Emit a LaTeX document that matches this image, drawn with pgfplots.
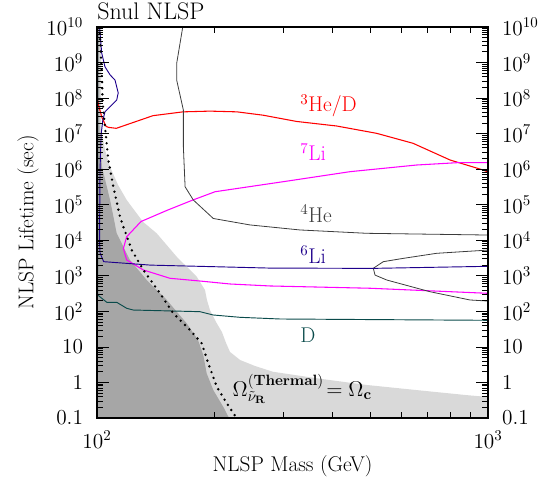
\RequirePackage{fix-cm}
\documentclass[border=0pt]{standalone}
\usepackage{pgfplots}
\pgfplotsset{compat=1.18}
\definecolor{hed}{RGB}{255,0,0}
\definecolor{lisev}{RGB}{255,0,255}
\definecolor{lisix}{RGB}{30,0,140}
\definecolor{deut}{RGB}{10,75,75}
\definecolor{hefour}{RGB}{60,60,60}
\definecolor{lightreg}{RGB}{217,217,217}
\definecolor{darkreg}{RGB}{166,166,166}

\def\minorticks{0.2,0.3,0.4,0.5,0.6,0.7,0.8,0.9,2,3,4,5,6,7,8,9,
 20,30,40,50,60,70,80,90,200,300,400,500,600,700,800,900,
 2e3,3e3,4e3,5e3,6e3,7e3,8e3,9e3,2e4,3e4,4e4,5e4,6e4,7e4,8e4,9e4,
 2e5,3e5,4e5,5e5,6e5,7e5,8e5,9e5,2e6,3e6,4e6,5e6,6e6,7e6,8e6,9e6,
 2e7,3e7,4e7,5e7,6e7,7e7,8e7,9e7,2e8,3e8,4e8,5e8,6e8,7e8,8e8,9e8,
 2e9,3e9,4e9,5e9,6e9,7e9,8e9,9e9}

\begin{document}
\fontsize{16}{19}\selectfont
\begin{tikzpicture}
\path[use as bounding box] (-72.75pt,-47.25pt) rectangle (342pt,313.5pt);
\begin{axis}[
  scale only axis, width=293.25pt, height=293.25pt,
  xmode=log, ymode=log,
  xmin=100, xmax=1000, ymin=0.1, ymax=1e10,
  clip mode=individual,
  axis line style={line width=1.1pt},
  major tick length=9pt, minor tick length=4.5pt,
  tick style={black, line width=0.6pt},
  xtick={100,1000}, xticklabels={$10^2$,$10^3$},
  minor xtick={200,300,400,500,600,700,800,900},
  ytick={0.1,1,10,100,1000,1e4,1e5,1e6,1e7,1e8,1e9,1e10},
  yticklabels={$0.1$,$1$,$10$,$10^2$,$10^3$,$10^4$,$10^5$,$10^6$,$10^7$,$10^8$,$10^9$,$10^{10}$},
  minor ytick/.expanded={\minorticks},
  xticklabel style={yshift=-4pt},
  yticklabel style={xshift=-5pt},
  axis on top,
  xlabel={NLSP Mass (GeV)},
  xlabel style={at={(axis description cs:0.5,-0.138)}, anchor=base},
  ylabel={NLSP Lifetime (sec)},
  ylabel style={at={(axis description cs:-0.1765,0.5)}, anchor=center},
]
% allowed regions (light) and excluded core (dark)
\addplot[fill=lightreg, draw=none] coordinates {
 (100,1e10) (102.4,1e10) (102.4,2.4e7) (103,1.04e7) (104.8,3.5e6) (108,1.15e6)
 (113.2,3.6e5) (119.1,1.36e5) (131.1,3.3e4) (142.1,1.57e4) (159.9,3.45e3)
 (179.9,944) (188.9,399) (191.1,209) (194.5,109) (201.6,50) (208.7,26.2)
 (213.8,12.9) (218.9,7.2) (232.2,4.29) (253.6,2.9) (281.9,2.0) (364.6,1.31)
 (489.5,0.85) (657.2,0.61) (882.1,0.44) (1000,0.39) (1000,0.1) (100,0.1)
};
\addplot[fill=darkreg, draw=none] coordinates {
 (100,1e10) (101.2,1e10) (101.5,1.04e7) (103,1.15e6) (108,1.36e5) (112.3,1.57e4)
 (121.4,2.79e3) (134,762) (150.8,209) (169.6,46) (181.3,15.6) (187,5.9)
 (190.8,1.8) (198.4,0.61) (211.2,0.19) (217.6,0.1) (100,0.1)
};

% 3He/D
\addplot[hed, line width=0.8pt] coordinates {
 (100.2,1e10) (100.2,1e8) (101,6e7) (103,2.8e7) (105.5,1.6e7) (107,1.5e7)
 (112,1.41e7) (139,3.2e7) (166,4.1e7) (194.5,4.3e7) (228,4.1e7) (266,3.3e7)
 (324,2.2e7) (410,1.64e7) (519,1.02e7) (643,5.35e6) (800,1.81e6) (971,9.5e5)
 (1000,8.3e5)
};
% 7Li
\addplot[lisev, line width=0.8pt] coordinates {
 (1000,1.52e6) (831.8,1.52e6) (657.2,1.31e6) (443.6,8.5e5) (299.6,4.45e5)
 (200.4,2.32e5) (174.7,1.32e5) (150.8,6.9e4) (129.6,3.37e4) (119.1,1.26e4)
 (116.8,5.9e3) (119.1,2.79e3) (131.4,1.46e3) (153.7,851) (183.4,714)
 (218.9,589) (277,518) (499,447) (1000,322)
};
% 4He
\addplot[hefour, line width=0.6pt] coordinates {
 (165.7,1e10) (159.9,9.5e8) (159.9,3.2e8) (166.3,4.6e7) (166.3,4.3e6)
 (168,3.2e5) (176.3,1.36e5) (198.4,4.1e4) (246.2,2.7e4) (330.5,1.95e4)
 (489.5,1.57e4) (972.6,1.41e4) (1000,1.4e4)
};
\addplot[hefour, line width=0.6pt] coordinates {
 (1000,5.3e3) (739.3,4.3e3) (607.4,3.1e3) (539.8,2.5e3) (508.9,1.63e3)
 (514,1.05e3) (550.8,762) (710.7,357) (899.4,209) (1000,195)
};
% 6Li
\addplot[lisix, line width=0.7pt] coordinates {
 (101.5,1e10) (102.8,1.86e9) (104.8,7.6e8) (108,4.5e8) (111.2,3.2e8)
 (113.3,1.4e8) (112.3,8.8e7) (108,5.7e7) (104.8,4.1e7) (103.5,2.4e7)
 (102.5,1e7) (101.8,1e6) (101.5,1e4) (101.8,4.4e3) (104,2.5e3) (137,2.0e3)
 (277,1.65e3) (509,1.62e3) (1000,1.85e3)
};
% D
\addplot[deut, line width=0.7pt] coordinates {
 (100.4,1e10) (100.4,288) (105.9,180) (112.3,180) (119.1,122) (123.8,109)
 (142.1,105) (183.4,98) (198.4,79) (232.2,68) (293.8,61) (1000,56)
};
% thermal relic abundance
\addplot[black, line width=2pt, line cap=round, dash pattern=on 0pt off 4.6pt] coordinates {
 (101.4,1e10) (102.8,6.2e8) (103.4,7.1e7) (104.8,1.57e7) (106.9,1.81e6)
 (110.1,3.2e5) (114.5,4.6e4) (116.8,2.4e4) (122.7,5.3e3) (131.4,1.46e3)
 (144.9,322) (156.7,88) (172.9,30) (185.3,12.6) (192.6,3.46) (202.4,0.76)
 (214.7,0.26) (227.7,0.098)
};

\node[hed, anchor=west] at (axis cs:317,6.0e7) {$^3$He/D};
\node[lisev, anchor=west] at (axis cs:317,3.0e6) {$^7$Li};
\node[hefour, anchor=west] at (axis cs:317,5.5e4) {$^4$He};
\node[lisix, anchor=west] at (axis cs:317,3.9e3) {$^6$Li};
\node[deut, anchor=west] at (axis cs:317,21.6) {D};
\node[anchor=base west, inner sep=0pt] at (axis cs:222,0.4)
  {$\Omega^{(\mathbf{Thermal})}_{\tilde{\nu}_{\mathbf{R}}}\!=\Omega_{\mathbf{c}}$};
\node[anchor=base west, inner sep=0pt, font=\fontsize{18}{21}\selectfont]
  at (axis description cs:0,1.02) {Snul NLSP};
\end{axis}
\begin{axis}[
  scale only axis, width=293.25pt, height=293.25pt,
  xmode=log, ymode=log,
  xmin=100, xmax=1000, ymin=0.1, ymax=1e10,
  hide x axis, axis y line*=right, tick align=inside,
  axis line style={line width=1.1pt},
  major tick length=9pt, minor tick length=4.5pt,
  tick style={black, line width=0.6pt},
  ytick={0.1,1,10,100,1000,1e4,1e5,1e6,1e7,1e8,1e9,1e10},
  yticklabels={$0.1$,$1$,$10$,$10^2$,$10^3$,$10^4$,$10^5$,$10^6$,$10^7$,$10^8$,$10^9$,$10^{10}$},
  minor ytick/.expanded={\minorticks},
  yticklabel style={xshift=5pt},
]
\addplot[draw=none] coordinates {(100,1) (1000,1)};
\end{axis}
\end{tikzpicture}
\end{document}
